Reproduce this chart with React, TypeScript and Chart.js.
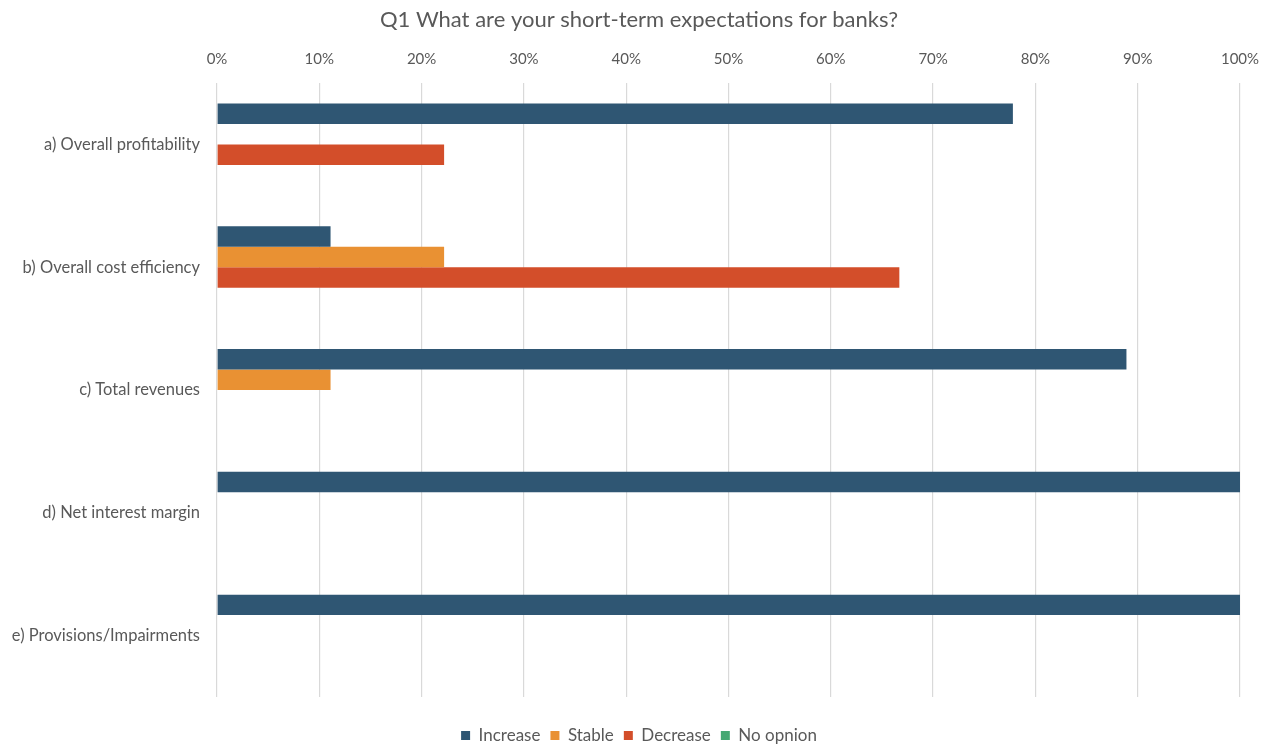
import React, { useEffect, useRef } from "react";
import { Chart, registerables } from "chart.js";

Chart.register(...registerables);

const titleText = "Q1 What are your short-term expectations for banks?";
const categories = [
  "a) Overall profitability",
  "b) Overall cost efficiency",
  "c) Total revenues",
  "d) Net interest margin",
  "e) Provisions/Impairments",
];
const seriesNames = ["Increase", "Stable", "Decrease", "No opnion"];
const increase = [77.8, 11.1, 88.9, 100, 100];
const stable = [0, 22.2, 11.1, 0, 0];
const decrease = [22.2, 66.7, 0, 0, 0];
const noOpinion = [0, 0, 0, 0, 0];
const colors = ["#2F5673", "#E99133", "#D34E2A", "#46A873"];

const FONT = "Lato, 'Open Sans', sans-serif";
const TEXT = "#595959";

const shiftBlocks = {
  id: "shiftBlocks",
  afterLayout(chart: any) {
    if (chart.titleBlock) chart.titleBlock.left = 38;
    if (chart.legend) chart.legend.left = 38;
  },
};

export default function App() {
  const ref = useRef<HTMLCanvasElement | null>(null);
  useEffect(() => {
    document.body.style.margin = "0";
    if (!ref.current) return;
    const values = [increase, stable, decrease, noOpinion];
    const chart = new Chart(ref.current, {
      type: "bar",
      data: {
        labels: categories,
        datasets: seriesNames.map((n, i) => ({
          label: n,
          data: values[i],
          backgroundColor: colors[i],
          borderWidth: 0,
          categoryPercentage: 0.667,
          barPercentage: 1,
        })),
      },
      plugins: [shiftBlocks],
      options: {
        indexAxis: "y",
        responsive: false,
        animation: false,
        layout: { padding: { left: 0, right: 31, top: 0, bottom: -8 } },
        plugins: {
          title: {
            display: true,
            text: titleText,
            color: TEXT,
            font: { family: FONT, size: 22, weight: "normal", lineHeight: 1.2 },
            padding: { top: 7, bottom: 0 },
          },
          legend: {
            position: "bottom",
            labels: {
              color: TEXT,
              font: { family: FONT, size: 17 },
              boxWidth: 9,
              boxHeight: 9,
              padding: 10,
            },
          },
          tooltip: { enabled: false },
        },
        scales: {
          x: {
            position: "top",
            min: 0,
            max: 100,
            ticks: {
              stepSize: 10,
              color: TEXT,
              font: { family: FONT, size: 15 },
              padding: 15,
              callback: (v: any) => v + "%",
            },
            grid: { color: "#d9d9d9", lineWidth: 1.2, drawTicks: false },
            border: { display: false },
            afterFit: (s: any) => {
              s.height = 83 - 33.4;
              s.paddingLeft = 0;
              s.paddingRight = 0;
            },
          },
          x2: {
            type: "linear",
            axis: "x",
            position: "bottom",
            display: true,
            grid: { display: false, drawTicks: false },
            ticks: { display: false },
            border: { display: false },
            afterFit: (s: any) => {
              s.height = 20;
              s.paddingLeft = 0;
              s.paddingRight = 0;
            },
          },
          y: {
            ticks: {
              color: TEXT,
              font: { family: FONT, size: 16.5 },
              padding: 17,
            },
            grid: { display: false, drawTicks: false },
            border: { display: false },
            afterFit: (s: any) => {
              s.width = 217;
            },
          },
        },
      } as any,
    });
    return () => chart.destroy();
  }, []);
  return (
    <div style={{ width: 1271, height: 746 }}>
      <canvas ref={ref} width={1271} height={746} />
    </div>
  );
}
